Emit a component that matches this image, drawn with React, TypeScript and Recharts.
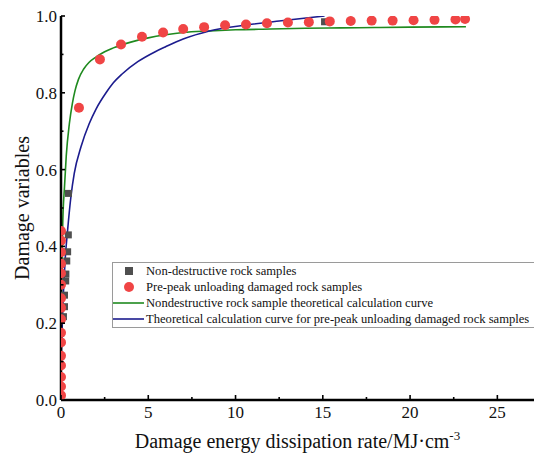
import { ComposedChart, Scatter, Line, XAxis, YAxis, Legend } from 'recharts';

// pre-peak unloading damaged samples (red circles)
const preX = [1.03, 2.23, 3.44, 4.64, 5.85, 7.0, 8.2, 9.4, 10.6, 11.8, 13.0, 14.2, 15.4, 16.6, 17.8, 19.0, 20.2, 21.4, 22.6, 23.15];
const preY = [0.761, 0.887, 0.926, 0.946, 0.957, 0.966, 0.971, 0.976, 0.978, 0.981, 0.983, 0.984, 0.986, 0.987, 0.988, 0.988, 0.989, 0.99, 0.991, 0.992];
// the dense column of red points sitting on the y axis (half hidden by the frame)
const preNearX = [0, 0, 0, 0, 0, 0, 0, 0, 0, 0, 0, 0, 0, 0, 0, 0];
const preNearY = [0.012, 0.035, 0.06, 0.09, 0.115, 0.15, 0.175, 0.21, 0.24, 0.265, 0.3, 0.33, 0.355, 0.385, 0.415, 0.44];

// non-destructive samples (grey squares)
const ndX = [0.14, 0.2, 0.2, 0.27, 0.28, 0.33, 0.38, 0.42, 0.43, 15.1];
const ndY = [0.217, 0.243, 0.273, 0.31, 0.328, 0.362, 0.386, 0.43, 0.538, 0.985];

// green theoretical curve
const greenX = [0, 0.03, 0.06, 0.1, 0.2, 0.3, 0.48, 0.65, 0.8, 1.0, 1.3, 1.6, 2.0, 2.5, 3.0, 4.0, 5.0, 6.0, 7.0, 8.5, 10, 12, 14, 16, 18, 20, 23.2];
const greenY = [0, 0.25, 0.37, 0.46, 0.555, 0.635, 0.72, 0.772, 0.805, 0.835, 0.862, 0.879, 0.893, 0.907, 0.917, 0.932, 0.943, 0.951, 0.957, 0.961, 0.964, 0.966, 0.968, 0.969, 0.97, 0.971, 0.972];

// blue theoretical curve
const blueX = [0.02, 0.06, 0.12, 0.25, 0.38, 0.57, 0.76, 1.15, 1.62, 2.0, 2.58, 3.0, 3.5, 4.4, 5.4, 6.0, 7.0, 8.5, 10.7, 12.5, 15.1];
const blueY = [0.12, 0.18, 0.26, 0.373, 0.443, 0.53, 0.59, 0.66, 0.72, 0.757, 0.8, 0.826, 0.849, 0.881, 0.907, 0.92, 0.94, 0.961, 0.977, 0.987, 1.0];

const xTicks = [0, 2.5, 5, 7.5, 10, 12.5, 15, 17.5, 20, 22.5, 25];
const yTicks = [0, 0.1, 0.2, 0.3, 0.4, 0.5, 0.6, 0.7, 0.8, 0.9, 1.0];

const seriesNames = [
  'Non-destructive rock samples',
  'Pre-peak unloading damaged rock samples',
  'Nondestructive rock sample theoretical calculation curve',
  'Theoretical calculation curve for pre-peak unloading damaged rock samples',
];

const GREY = '#4f4f4f';
const RED = '#f04545';
const GREEN = '#1f8a1f';
const BLUE = '#1c1c8e';

const toPoints = (xs: number[], ys: number[]) => xs.map((x, i) => ({ x, y: ys[i] }));

const preData = toPoints(preX, preY);
const preAxisData = toPoints(preNearX, preNearY);
const ndData = toPoints(ndX, ndY);
const greenData = toPoints(greenX, greenY);
const blueData = toPoints(blueX, blueY);

const FONT = '"Liberation Serif", "Times New Roman", serif';

// points on the y axis are cut by the frame: only their right half shows
const HalfDot = (p: any) => (
  <path d={`M${p.cx},${p.cy - 5}A5,5 0 0 1 ${p.cx},${p.cy + 5}Z`} fill={RED} />
);
const RedDot = (p: any) => <circle cx={p.cx} cy={p.cy} r={5} fill={RED} />;
const GreySquare = (p: any) => <rect x={p.cx - 3.5} y={p.cy - 3.5} width={7} height={7} fill={GREY} />;

const XTick = ({ x, y, payload }: any) => {
  const v = payload.value;
  const major = v % 5 === 0;
  return (
    <g>
      <line x1={x} x2={x} y1={y} y2={y - (major ? 5 : 3)} stroke="#000" strokeWidth={1.6} />
      {major && (
        <text x={x} y={y + 18} textAnchor="middle" fontSize={17} fill="#111" fontFamily={FONT}>
          {v}
        </text>
      )}
    </g>
  );
};

const YTick = ({ x, y, payload }: any) => {
  const v = payload.value;
  const major = Math.round(v * 10) % 2 === 0;
  return (
    <g>
      <line x1={x} x2={x + (major ? 4 : 2.5)} y1={y} y2={y} stroke="#000" strokeWidth={1.6} />
      {major && (
        <text x={x - 4} y={y} dy="0.35em" textAnchor="end" fontSize={17} fill="#111" fontFamily={FONT}>
          {v.toFixed(1)}
        </text>
      )}
    </g>
  );
};

const YLabel = ({ viewBox }: any) => {
  const cx = viewBox.x + 22;
  const cy = viewBox.y + viewBox.height / 2;
  return (
    <text x={cx} y={cy} transform={`rotate(-90 ${cx} ${cy})`} textAnchor="middle" dy="0.35em"
      fontSize={20} fill="#111" fontFamily={FONT}>
      Damage variables
    </text>
  );
};

const XLabel = ({ viewBox }: any) => (
  <text x={viewBox.x + viewBox.width / 2} y={viewBox.y + 48} textAnchor="middle" fontSize={20} fill="#111" fontFamily={FONT}>
    Damage energy dissipation rate/MJ·cm<tspan dy={-8} fontSize={13}>-3</tspan>
  </text>
);

const LegendBox = () => (
  <div style={{ border: '1px solid #9a9a9a', background: '#fff', padding: '0', fontFamily: FONT, fontSize: 12.6, color: '#111', width: 440 }}>
    {seriesNames.map((name, i) => (
      <div key={name} style={{ display: 'flex', alignItems: 'center', height: 16 }}>
        <svg width={33} height={16} style={{ flex: 'none' }}>
          {i === 0 && <rect x={12} y={4} width={8} height={8} fill={GREY} />}
          {i === 1 && <circle cx={16} cy={8} r={5} fill={RED} />}
          {i === 2 && <line x1={0} x2={31} y1={8} y2={8} stroke={GREEN} strokeWidth={1.6} />}
          {i === 3 && <line x1={0} x2={31} y1={8} y2={8} stroke={BLUE} strokeWidth={1.6} />}
        </svg>
        <span style={{ whiteSpace: 'nowrap' }}>{name}</span>
      </div>
    ))}
  </div>
);

export default function App() {
  return (
    <div style={{ position: 'fixed', left: 0, top: 0, width: 534, height: 458, overflow: 'hidden', background: '#fff' }}>
      <ComposedChart width={534} height={458} margin={{ top: 16, right: 0, left: 0, bottom: 0 }}>
        <XAxis
          type="number"
          dataKey="x"
          domain={[0, 27.1]}
          ticks={xTicks}
          allowDataOverflow
          height={58}
          tickSize={0}
          tickMargin={0}
          tickLine={false}
          tick={<XTick />}
          axisLine={{ stroke: '#000', strokeWidth: 2.5 }}
          label={<XLabel />}
        />
        <YAxis
          type="number"
          dataKey="y"
          domain={[0, 1]}
          ticks={yTicks}
          allowDataOverflow
          width={61}
          tickSize={0}
          tickMargin={0}
          tickLine={false}
          tick={<YTick />}
          axisLine={{ stroke: '#000', strokeWidth: 2.5 }}
          label={<YLabel />}
        />
        <Legend
          verticalAlign="middle"
          align="center"
          content={<LegendBox />}
          wrapperStyle={{ left: 112, top: 262, width: 440 }}
        />
        <Scatter name={seriesNames[0]} data={ndData} isAnimationActive={false} shape={GreySquare} />
        <Scatter name={seriesNames[1]} data={preAxisData} isAnimationActive={false} shape={HalfDot} legendType="none" />
        <Scatter name={seriesNames[1]} data={preData} isAnimationActive={false} shape={RedDot} />
        <Line name={seriesNames[2]} data={greenData} dataKey="y" type="monotone" stroke={GREEN} strokeWidth={1.6}
          dot={false} activeDot={false} isAnimationActive={false} />
        <Line name={seriesNames[3]} data={blueData} dataKey="y" type="monotone" stroke={BLUE} strokeWidth={1.6}
          dot={false} activeDot={false} isAnimationActive={false} />
      </ComposedChart>
    </div>
  );
}
